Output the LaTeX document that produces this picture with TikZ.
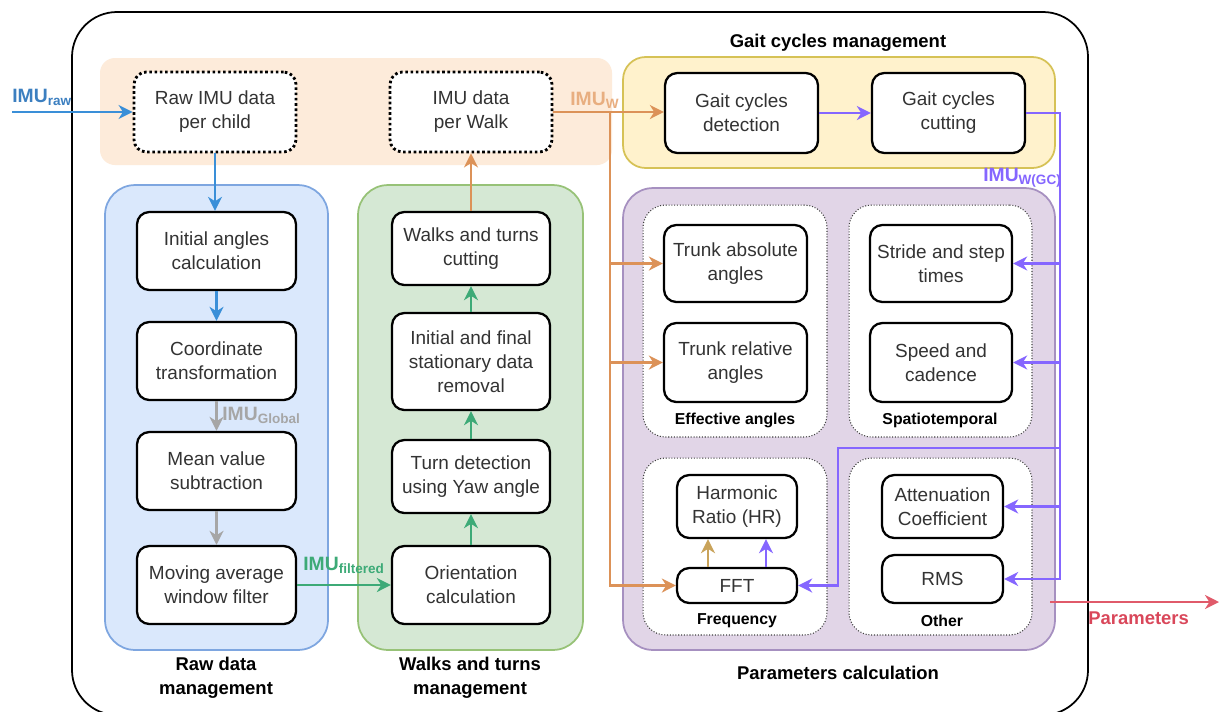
\documentclass[tikz,border=0pt]{standalone}
\usepackage{fontspec}
\setmainfont{Liberation Sans}
\usepackage{tikz}
\usetikzlibrary{arrows.meta}

\definecolor{txtgray}{HTML}{333333}
\definecolor{bluefill}{HTML}{DAE8FC}
\definecolor{blueline}{HTML}{7EA6E0}
\definecolor{greenfill}{HTML}{D5E8D4}
\definecolor{greenline}{HTML}{97C277}
\definecolor{yellowfill}{HTML}{FFF2CC}
\definecolor{yellowline}{HTML}{D6C256}
\definecolor{purplefill}{HTML}{E1D5E7}
\definecolor{purpleline}{HTML}{A690C0}
\definecolor{orangeband}{HTML}{FDEBDA}
\definecolor{bluearr}{HTML}{3A8FD8}
\definecolor{grayarr}{HTML}{A6A6A6}
\definecolor{greenarr}{HTML}{3DAA77}
\definecolor{orangearr}{HTML}{DC9258}
\definecolor{purplearr}{HTML}{8566FF}
\definecolor{tanarr}{HTML}{C9A35A}
\definecolor{redarr}{HTML}{E05A6A}
\definecolor{imublue}{HTML}{3C7FC0}
\definecolor{imuorange}{HTML}{E8AE80}
\definecolor{imured}{HTML}{D9475A}

\tikzset{
  procbox/.style={draw=black, line width=1.3pt, rounded corners=7pt, fill=white,
    align=center, text=txtgray, inner sep=2pt,
    font=\fontsize{10.8}{13.6}\selectfont},
  databox/.style={procbox, dash pattern=on 1.5pt off 1.5pt, line width=1.6pt},
  grpbox/.style={rounded corners=0.6cm, line width=1pt},
  subgrp/.style={draw=black!75, densely dotted, line width=0.6pt,
    rounded corners=0.45cm, fill=white},
  grplabel/.style={font=\bfseries\fontsize{10.5}{13.6}\selectfont, align=center},
  sublabel/.style={font=\bfseries\fontsize{9}{11}\selectfont},
  imulabel/.style={font=\bfseries\fontsize{11}{13}\selectfont, inner sep=0pt},
  arr/.style={-{Stealth[length=8pt,width=8pt,inset=2.5pt]}, line width=1.2pt},
}

\begin{document}
\begin{tikzpicture}[x=0.02cm, y=-0.02cm]
  \clip (0,0) rectangle (1219,711);

  % Outer frame
  \draw[line width=1pt, rounded corners=0.9cm, fill=white] (72,12) rectangle (1088,715);

  % Group backgrounds
  \fill[orangeband, rounded corners=0.3cm] (100,58) rectangle (612,165);
  \node[grpbox, fill=bluefill, draw=blueline, minimum width=4.46cm, minimum height=9.3cm] (rawgrp) at (216.5,417.5) {};
  \node[grpbox, fill=greenfill, draw=greenline, minimum width=4.5cm, minimum height=9.3cm] (walkgrp) at (470.5,417.5) {};
  \node[grpbox, rounded corners=0.45cm, fill=yellowfill, draw=yellowline, minimum width=8.64cm, minimum height=2.22cm] (gaitgrp) at (839,112.5) {};
  \node[grpbox, fill=purplefill, draw=purpleline, minimum width=8.64cm, minimum height=9.24cm] (pargrp) at (839,419) {};

  % Sub groups
  \node[subgrp, minimum width=3.68cm, minimum height=4.64cm] (effgrp) at (735,321) {};
  \node[subgrp, minimum width=3.66cm, minimum height=4.64cm] (spagrp) at (940.5,321) {};
  \node[subgrp, minimum width=3.68cm, minimum height=3.54cm] (frqgrp) at (735,546.5) {};
  \node[subgrp, minimum width=3.66cm, minimum height=3.54cm] (othgrp) at (940.5,546.5) {};

  % Group labels
  \node[grplabel] (rawlbl) at (216,678) {Raw data\\management};
  \node[grplabel] (walklbl) at (470,678) {Walks and turns\\management};
  \node[grplabel] (parlbl) at (838,673) {Parameters calculation};
  \node[grplabel] (gaitlbl) at (838,43) {Gait cycles management};
  \node[sublabel] (efflbl) at (735,420) {Effective angles};
  \node[sublabel] (spalbl) at (940,420) {Spatiotemporal};
  \node[sublabel] (frqlbl) at (737,621) {Frequency};
  \node[sublabel] (othlbl) at (942,621) {Other};

  % Data boxes
  \node[databox, minimum width=3.24cm, minimum height=1.6cm] (rawdata) at (215,112) {Raw IMU data\\per child};
  \node[databox, minimum width=3.24cm, minimum height=1.6cm] (walkdata) at (471,112) {IMU data\\per Walk};

  % Raw data management
  \node[procbox, minimum width=3.18cm, minimum height=1.56cm] (initang) at (216.5,251) {Initial angles\\calculation};
  \node[procbox, minimum width=3.18cm, minimum height=1.56cm] (coordtr) at (216.5,361) {Coordinate\\transformation};
  \node[procbox, minimum width=3.18cm, minimum height=1.56cm] (meanval) at (216.5,471) {Mean value\\subtraction};
  \node[procbox, minimum width=3.18cm, minimum height=1.56cm] (movavg) at (216.5,585) {Moving average\\window filter};

  % Walks and turns management
  \node[procbox, minimum width=3.16cm, minimum height=1.46cm] (wtcut) at (471,248.5) {Walks and turns\\cutting};
  \node[procbox, minimum width=3.16cm, minimum height=1.94cm] (statrem) at (471,361.5) {Initial and final\\stationary data\\removal};
  \node[procbox, minimum width=3.16cm, minimum height=1.46cm] (turndet) at (471,476.5) {Turn detection\\using Yaw angle};
  \node[procbox, minimum width=3.16cm, minimum height=1.56cm] (orient) at (471,585) {Orientation\\calculation};

  % Gait cycles management
  \node[procbox, minimum width=3.06cm, minimum height=1.6cm] (gcdet) at (741.5,113) {Gait cycles\\detection};
  \node[procbox, minimum width=3.06cm, minimum height=1.6cm] (gccut) at (948.5,113) {Gait cycles\\cutting};

  % Parameters calculation
  \node[procbox, minimum width=2.86cm, minimum height=1.54cm] (trabs) at (735.5,263.5) {Trunk absolute\\angles};
  \node[procbox, minimum width=2.86cm, minimum height=1.58cm] (trrel) at (735.5,362.5) {Trunk relative\\angles};
  \node[procbox, minimum width=2.84cm, minimum height=1.54cm] (stride) at (941,263.5) {Stride and step\\times};
  \node[procbox, minimum width=2.84cm, minimum height=1.58cm] (speed) at (941,362.5) {Speed and\\cadence};
  \node[procbox, minimum width=2.4cm, minimum height=1.26cm] (hr) at (737,506.5) {Harmonic\\Ratio (HR)};
  \node[procbox, minimum width=2.4cm, minimum height=0.7cm] (fft) at (737,585.5) {FFT};
  \node[procbox, minimum width=2.42cm, minimum height=1.26cm] (atten) at (942.5,506.5) {Attenuation\\Coefficient};
  \node[procbox, minimum width=2.42cm, minimum height=0.96cm] (rms) at (942.5,579) {RMS};

  % Raw data flow
  \coordinate (imuin) at (12,112);
  \node[imulabel, text=imublue, anchor=west] (imuraw) at (12,97) {IMU\textsubscript{raw}};
  \draw[arr, bluearr] (imuin) -- (rawdata.west);
  \draw[arr, bluearr] (rawdata.south) -- (rawdata.south |- initang.north);
  \draw[arr, bluearr] (initang) -- (coordtr);
  \draw[arr, grayarr] (coordtr) -- (meanval);
  \node[imulabel, text=grayarr, anchor=west] (imuglob) at (222,415) {IMU\textsubscript{Global}};
  \draw[arr, grayarr] (meanval) -- (movavg);

  % Walks and turns flow
  \draw[arr, greenarr] (movavg.east) -- (orient.west);
  \node[imulabel, text=greenarr, anchor=west] (imufilt) at (303,565) {IMU\textsubscript{filtered}};
  \draw[arr, greenarr] (orient) -- (turndet);
  \draw[arr, greenarr] (turndet) -- (statrem);
  \draw[arr, greenarr] (statrem) -- (wtcut);
  \draw[arr, orangearr] (wtcut) -- (walkdata);

  % Walk data to gait cycles and angles
  \coordinate (obranch) at (610,112);
  \draw[arr, orangearr] (walkdata.east) -- (gcdet.west |- walkdata.east);
  \node[imulabel, text=imuorange, anchor=west] (imuw) at (570,100) {IMU\textsubscript{W}};
  \draw[arr, orangearr] (obranch) |- (trabs.west);
  \draw[arr, orangearr] (obranch) |- (trrel.west);
  \draw[arr, orangearr] (obranch) |- (fft.west);

  % Gait cycles to parameters
  \coordinate (ptop) at (1060,113);
  \coordinate (pfft) at (1060,448);
  \draw[arr, purplearr] (gcdet) -- (gccut);
  \draw[arr, purplearr] (gccut.east) -- (ptop) |- (rms.east);
  \node[imulabel, text=purplearr, anchor=east] (imugc) at (1062,178) {IMU\textsubscript{W(GC)}};
  \draw[arr, purplearr] (ptop) |- (stride.east);
  \draw[arr, purplearr] (ptop) |- (speed.east);
  \draw[arr, purplearr] (ptop) |- (atten.east);
  \draw[arr, purplearr] (pfft) -- (838,448) |- (fft.east);
  \draw[arr, tanarr] ([xshift=-0.58cm]fft.north) -- ([xshift=-0.58cm]hr.south);
  \draw[arr, purplearr] ([xshift=0.58cm]fft.north) -- ([xshift=0.58cm]hr.south);

  % Output
  \coordinate (parin) at (1050,602);
  \coordinate (parend) at (1219,602);
  \draw[arr, redarr] (parin) -- (parend);
  \node[imulabel, font=\bfseries\fontsize{10.5}{13}\selectfont, text=imured, anchor=west] (paramlbl) at (1088,618) {Parameters};
\end{tikzpicture}
\end{document}
